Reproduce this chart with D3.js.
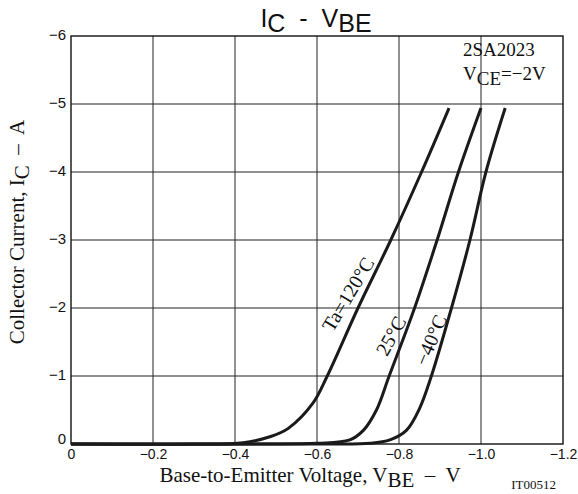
<!DOCTYPE html>
<html>
<head>
<meta charset="utf-8">
<script src="https://cdn.jsdelivr.net/npm/d3@7"></script>
<style>
  body { margin: 0; background: #fff; }
  svg { display: block; }
  text { white-space: pre; }
  .sans { font-family: "Liberation Sans", Arial, sans-serif; }
  .serif { font-family: "Liberation Serif", "Times New Roman", serif; }
</style>
</head>
<body>
<svg id="chart" width="578" height="494"></svg>
<script>
'use strict'

// values (V, A)
const xTicks = [0, -0.2, -0.4, -0.6, -0.8, -1.0, -1.2]
const xTickLabels = ['0', '\u22120.2', '\u22120.4', '\u22120.6', '\u22120.8', '\u22121.0', '\u22121.2']
const yTicks = [0, -1, -2, -3, -4, -5, -6]
const yTickLabels = ['0', '\u22121', '\u22122', '\u22123', '\u22124', '\u22125', '\u22126']

const vbe120 = [0, -0.3, -0.42, -0.487, -0.53, -0.59, -0.625, -0.70, -0.78, -0.855, -0.922]
const ic120  = [0, -0.0, -0.02, -0.11, -0.23, -0.6, -1.0, -2.0, -3.0, -4.0, -4.94]

const vbe25 = [0, -0.45, -0.6, -0.68, -0.713, -0.745, -0.776, -0.838, -0.893, -0.945, -1.0]
const ic25  = [0, -0.0, -0.01, -0.06, -0.2, -0.5, -1.0, -2.0, -3.0, -4.0, -4.94]

const vbeM40 = [0, -0.6, -0.73, -0.778, -0.818, -0.85, -0.879, -0.928, -0.973, -1.012, -1.059]
const icM40  = [0, -0.0, -0.01, -0.06, -0.2, -0.52, -1.0, -2.0, -3.0, -4.0, -4.94]

const curveLabels = ['Ta=120\u00B0C', '25\u00B0C', '\u221240\u00B0C']

function drawChart(){
	const svg = d3.select('#chart')
	const margin = {left: 71, right: 15, top: 36, bottom: 50}
	const W = 578, H = 494

	const x = d3.scaleLinear().domain([0, -1.2]).range([margin.left, W - margin.right])
	const y = d3.scaleLinear().domain([0, -6]).range([H - margin.bottom, margin.top])

	// grid
	const grid = svg.append('g')
	grid.selectAll('.vg').data(xTicks.slice(1, -1)).enter().append('line')
		.attr('x1', d => x(d)).attr('x2', d => x(d))
		.attr('y1', y(0)).attr('y2', y(-6))
		.attr('stroke', '#222').attr('stroke-width', 1)
	grid.selectAll('.hg').data(yTicks.slice(1, -1)).enter().append('line')
		.attr('x1', x(0)).attr('x2', x(-1.2))
		.attr('y1', d => y(d)).attr('y2', d => y(d))
		.attr('stroke', '#222').attr('stroke-width', 1)

	// frame
	svg.append('rect')
		.attr('x', x(0)).attr('y', y(-6))
		.attr('width', x(-1.2) - x(0)).attr('height', y(0) - y(-6))
		.attr('fill', 'none').attr('stroke', '#111').attr('stroke-width', 1.4)

	// axes (labels only, ticks are the grid)
	const xAxis = d3.axisBottom(x).tickValues(xTicks).tickSize(0).tickPadding(5)
		.tickFormat((d, i) => xTickLabels[i])
	const gx = svg.append('g').attr('transform', 'translate(0,' + y(0) + ')').call(xAxis)
	gx.select('.domain').remove()
	gx.selectAll('text').attr('class', 'sans').style('font-size', '14px').attr('fill', '#111')

	const yAxis = d3.axisLeft(y).tickValues(yTicks).tickSize(0).tickPadding(5)
		.tickFormat((d, i) => yTickLabels[i])
	const gy = svg.append('g').attr('transform', 'translate(' + x(0) + ',0)').call(yAxis)
	gy.select('.domain').remove()
	gy.selectAll('text').attr('class', 'sans').style('font-size', '15px').attr('fill', '#111')
		.attr('dy', (d) => d === 0 ? '-0.05em' : '0.2em')

	// curves
	const line = d3.line().x(d => x(d[0])).y(d => y(d[1])).curve(d3.curveCatmullRom.alpha(0.5))
	const series = [
		d3.zip(vbe120, ic120),
		d3.zip(vbe25, ic25),
		d3.zip(vbeM40, icM40)
	]
	svg.selectAll('.curve').data(series).enter().append('path')
		.attr('d', line)
		.attr('fill', 'none').attr('stroke', '#1a1a1a').attr('stroke-width', 3)

	// curve labels
	const labelPos = [[-0.69, -2.15, -59], [-0.795, -1.54, -61], [-0.893, -1.49, -67]]
	labelPos.forEach(function(p, i){
		svg.append('text').attr('class', 'serif')
			.attr('transform', 'translate(' + x(p[0]) + ',' + y(p[1]) + ') rotate(' + p[2] + ')')
			.attr('text-anchor', 'middle')
			.style('font-size', '20px').attr('fill', '#111')
			.text(curveLabels[i])
	})

	// title
	const title = svg.append('text').attr('class', 'sans')
		.attr('x', 316).attr('y', 27).attr('text-anchor', 'middle')
		.style('font-size', '25px').attr('fill', '#111')
	title.append('tspan').text('I')
	title.append('tspan').attr('dy', 5).text('C')
	title.append('tspan').attr('dy', -5).text('  -  V')
	title.append('tspan').attr('dy', 5).text('BE')

	// device annotation
	svg.append('text').attr('class', 'serif')
		.attr('x', 463).attr('y', 56).style('font-size', '19px').attr('fill', '#111')
		.text('2SA2023')
	const vce = svg.append('text').attr('class', 'serif')
		.attr('x', 463).attr('y', 80).style('font-size', '19px').attr('fill', '#111')
	vce.append('tspan').text('V')
	vce.append('tspan').attr('dy', 5).text('CE')
	vce.append('tspan').attr('dy', -5).text('=\u22122V')

	// x axis title
	const xt = svg.append('text').attr('class', 'serif')
		.attr('x', 310).attr('y', 482).attr('text-anchor', 'middle')
		.style('font-size', '21px').attr('fill', '#111')
	xt.append('tspan').text('Base-to-Emitter Voltage, V')
	xt.append('tspan').attr('dy', 5).text('BE')
	xt.append('tspan').attr('dy', -5).text('  \u2013  V')

	svg.append('text').attr('class', 'serif')
		.attr('x', 556).attr('y', 489).attr('text-anchor', 'end')
		.style('font-size', '13px').attr('fill', '#111')
		.text('IT00512')

	// y axis title
	const yt = svg.append('text').attr('class', 'serif')
		.attr('transform', 'translate(24,' + 232 + ') rotate(-90)')
		.attr('text-anchor', 'middle')
		.style('font-size', '21px').attr('fill', '#111')
	yt.append('tspan').text('Collector Current, I')
	yt.append('tspan').attr('dy', 5).text('C')
	yt.append('tspan').attr('dy', -5).text('  \u2013  A')
}

drawChart()
</script>
</body>
</html>
